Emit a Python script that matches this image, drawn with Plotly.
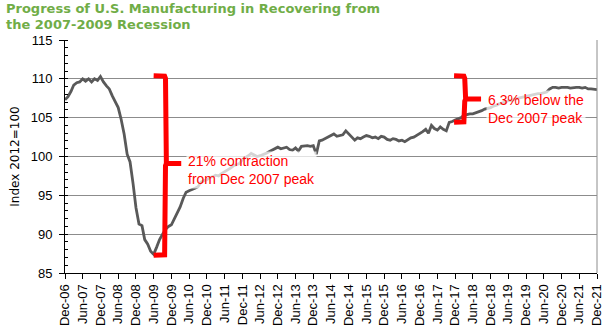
import pandas as pd
import plotly.graph_objects as go

# Monthly manufacturing output index (2012=100), Dec-2006 through Dec-2021
months = pd.date_range("2006-12-01", "2021-12-01", freq="MS")

mfg_index = [
    107.3, 107.7, 108.4, 109.2, 109.5, 109.6, 110.0, 109.7, 110.0, 109.6, 110.0, 109.8,
    110.3, 109.6, 109.1, 108.7, 107.8, 107.0, 106.3, 104.8, 102.9, 100.3, 99.3, 96.5,
    93.4, 91.3, 91.1, 89.3, 88.7, 87.8, 87.4, 88.3, 89.3, 90.0, 90.6, 91.0,
    91.2, 92.0, 92.7, 93.5, 94.6, 95.4, 95.6, 95.8, 95.9, 96.1, 96.7, 96.9,
    97.0, 97.3, 97.4, 97.6, 97.5, 97.8, 98.0, 98.3, 98.5, 98.8, 99.0, 99.1,
    99.6, 99.8, 100.1, 100.4, 100.2, 100.0, 100.1, 100.3, 100.4, 100.6, 100.8, 101.0,
    101.2, 101.0, 101.1, 101.2, 100.9, 100.8, 101.1, 100.7, 101.3, 101.4, 101.4, 101.3,
    101.4, 100.3, 102.0, 102.1, 102.3, 102.5, 102.7, 102.9, 102.6, 102.7, 102.8, 103.3,
    102.9, 102.6, 102.1, 102.4, 102.3, 102.5, 102.7, 102.6, 102.4, 102.5, 102.3, 102.6,
    102.5, 102.2, 102.1, 102.3, 102.2, 102.0, 102.1, 101.9, 102.2, 102.4, 102.5, 102.7,
    103.0, 103.2, 103.5, 103.0, 104.0, 103.6, 103.4, 103.8, 103.5, 103.3, 104.4, 104.5,
    104.7, 104.8, 105.0, 105.3, 105.4, 105.5, 105.5, 105.6, 105.8, 105.9, 106.1, 106.2,
    106.3, 106.5, 106.6, 106.8, 106.9, 107.0, 107.2, 107.2, 107.4, 107.5, 107.6, 107.7,
    107.7, 107.8, 107.9, 108.0, 108.1, 108.1, 108.2, 108.3, 108.7, 108.9, 108.9, 108.8,
    108.9, 108.9, 108.9, 108.8, 108.9, 108.9, 108.9, 108.8, 108.9, 108.7, 108.7, 108.6,
    108.6,
]
assert len(mfg_index) == len(months)

# Callout brackets: (serif start, spine, spike tip) dates and (top, middle, bottom) levels
contraction_dates = ["2009-06-01", "2009-10-01", "2010-03-12"]
contraction_levels = [110.4, 99.1, 87.3]
gap_dates = ["2017-11-20", "2018-03-10", "2018-08-25"]
gap_levels = [110.4, 107.4, 104.4]

contraction_text = "21% contraction<br>from Dec 2007 peak"
gap_text = "6.3% below the<br>Dec 2007 peak"

title_lines = ["Progress of U.S. Manufacturing in Recovering from", "the 2007-2009 Recession"]

LINE_GRAY = "#595959"
GRID_GRAY = "#8c8c8c"
RED = "#ff0000"
GREEN = "#70ad47"
ARIAL = "Liberation Sans, Arial, sans-serif"
VERDANA = "DejaVu Sans, Verdana, sans-serif"


def bracket_path(dates, levels):
    d0, d1, d2 = [pd.Timestamp(d) for d in dates]
    top, mid, bot = levels
    nudge = pd.Timedelta(days=9)
    xs = [d0, d1 - nudge, d1, d1, d1 + nudge, d2, d1 + nudge, d1, d1, d1 - nudge, d0]
    ys = [top, top - 0.05, top - 0.35, mid + 0.3, mid, mid, mid, mid - 0.3, bot + 0.35, bot + 0.05, bot]
    return xs, ys


fig = go.Figure()

fig.add_trace(go.Scatter(
    x=months, y=mfg_index, mode="lines",
    line=dict(color=LINE_GRAY, width=2.8),
    hoverinfo="skip", showlegend=False,
))

for dates, levels in [(contraction_dates, contraction_levels), (gap_dates, gap_levels)]:
    bx, by = bracket_path(dates, levels)
    fig.add_trace(go.Scatter(
        x=bx, y=by, mode="lines",
        line=dict(color=RED, width=5),
        hoverinfo="skip", showlegend=False, cliponaxis=False,
    ))

note_font = dict(family=ARIAL, size=14, color=RED)
box_fill = "rgba(255,255,255,0.74)"
fig.add_annotation(
    x="2010-05-04", y=100.65, xref="x", yref="y", text=contraction_text,
    showarrow=False, xanchor="left", yanchor="top", align="left",
    font=note_font, bgcolor=box_fill, borderpad=1,
)
fig.add_annotation(
    x="2018-10-10", y=108.55, xref="x", yref="y", text=gap_text,
    showarrow=False, xanchor="left", yanchor="top", align="left",
    font=note_font, bgcolor=box_fill, borderpad=1,
)

title_font = dict(family=VERDANA, size=13, color=GREEN, weight="bold")
for i, line in enumerate(title_lines):
    fig.add_annotation(
        x=0, y=1, xref="paper", yref="paper", xanchor="left", yanchor="bottom",
        xshift=-61, yshift=22 - 16 * i, text=line, showarrow=False,
        font=title_font, align="left",
    )

# frame on the right-hand side of the plot area
fig.add_shape(type="line", xref="paper", yref="paper", x0=1, x1=1, y0=0, y1=1,
              line=dict(color=GRID_GRAY, width=1))

fig.update_layout(
    width=611, height=334,
    margin=dict(l=65, r=7, t=39.5, b=60.5),
    paper_bgcolor="white", plot_bgcolor="white",
    showlegend=False,
    font=dict(family=ARIAL, size=13, color="#000000"),
)

fig.update_xaxes(
    type="date",
    range=["2006-12-01", "2021-12-01"],
    tick0="2006-12-01", dtick="M6", tickformat="%b-%y",
    tickangle=-90,
    ticks="outside", ticklen=5, tickcolor="#000000",
    showline=True, linecolor="#000000", linewidth=1,
    showgrid=False, zeroline=False,
    ticklabeloverflow="allow",
    tickfont=dict(family=ARIAL, size=13, color="#000000"),
)

fig.update_yaxes(
    range=[85, 115], dtick=5, tick0=85,
    ticks="outside", ticklen=5, tickcolor="#000000",
    minor=dict(ticks="inside", dtick=1, ticklen=3, tickcolor="#000000", showgrid=False),
    showline=True, linecolor="#000000", linewidth=1,
    showgrid=True, gridcolor=GRID_GRAY, gridwidth=1,
    zeroline=False,
    ticklabelstandoff=4,
    tickfont=dict(family=ARIAL, size=13, color="#000000"),
    title=dict(text="Index 2012=100", font=dict(family=VERDANA, size=12, color="#000000"), standoff=8),
)

fig.write_html("out.html")
